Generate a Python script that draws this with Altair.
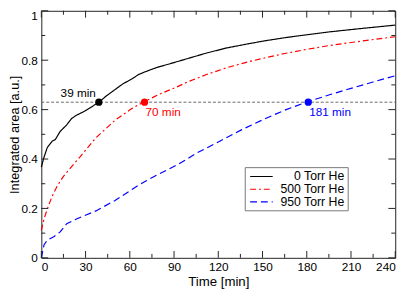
import altair as alt
import pandas as pd

# ---- data ----
t_black = [0, 1.8, 4, 7.3, 9.5, 12.8, 17.2, 20.5, 23.8, 30.4, 39, 44, 50.2, 55, 61.3, 66, 70, 78, 88, 100, 112, 126, 140, 152, 165, 180, 196, 218, 240]
y_black = [0.367, 0.407, 0.446, 0.472, 0.479, 0.512, 0.538, 0.564, 0.577, 0.597, 0.63, 0.655, 0.682, 0.703, 0.724, 0.742, 0.752, 0.770, 0.787, 0.808, 0.829, 0.850, 0.866, 0.879, 0.891, 0.903, 0.915, 0.929, 0.942]

t_red = [0, 1.8, 4, 7.3, 10.6, 15, 18.3, 26, 37, 50.2, 61.3, 70, 80, 92, 100, 112, 126, 140, 152, 165, 180, 196, 218, 240]
y_red = [0.111, 0.157, 0.197, 0.249, 0.289, 0.330, 0.354, 0.407, 0.486, 0.558, 0.604, 0.633, 0.662, 0.692, 0.714, 0.742, 0.770, 0.793, 0.810, 0.827, 0.844, 0.860, 0.878, 0.895]

t_blue = [0, 0.7, 1.8, 4, 8.4, 12.8, 17.2, 23.8, 37, 50, 63.5, 70, 80, 92.6, 106, 121, 136, 152, 166, 181, 196, 210, 225, 240]
y_blue = [0.0, 0.02, 0.052, 0.072, 0.085, 0.105, 0.138, 0.157, 0.19, 0.232, 0.285, 0.308, 0.340, 0.378, 0.426, 0.472, 0.519, 0.564, 0.600, 0.633, 0.661, 0.686, 0.712, 0.737]

series = ["0 Torr He", "500 Torr He", "950 Torr He"]
colors = ["#000000", "#ff0000", "#0000ff"]
dashes = [[1, 0], [6, 3, 2, 3], [7, 4]]

cross_t = [39, 70, 181]
cross_y = 0.63
cross_labels = ["39 min", "70 min", "181 min"]

x_major = [0, 30, 60, 90, 120, 150, 180, 210, 240]
x_minor = [15, 45, 75, 105, 135, 165, 195, 225]
y_major = [0, 0.2, 0.4, 0.6, 0.8, 1.0]
y_minor = [0.1, 0.3, 0.5, 0.7, 0.9]

W, H = 361, 252
FONT = "Liberation Sans"
FRAME = "#222222"

xs = alt.Scale(domain=[0, 240], nice=False, zero=False)
ys = alt.Scale(domain=[0, 1], nice=False, zero=False)

x_axis = alt.Axis(values=x_major, ticks=False, tickSize=0, domain=False, grid=False,
                  labelPadding=4, labelFontSize=12, labelFont=FONT, labelColor="#000",
                  titleFontSize=13.5, titleFont=FONT, titleFontWeight="normal",
                  titleColor="#000", titlePadding=2)
y_axis = alt.Axis(values=y_major, format=".1~f", ticks=False, tickSize=0, domain=False,
                  grid=False, labelPadding=4, labelFontSize=12, labelFont=FONT,
                  labelColor="#000",
                  labelBaseline={"condition": {"test": "datum.value >= 1", "value": "top"}, "value": "middle"},
                  titleFontSize=13, titleFont=FONT,
                  titleFontWeight="normal", titleColor="#000", titlePadding=0)

def X(field="t"):
    return alt.X(f"{field}:Q", scale=xs, axis=x_axis, title="Time [min]")

def Y(field="v"):
    return alt.Y(f"{field}:Q", scale=ys, axis=y_axis, title="Integrated area [a.u.]")

layers = []

# curves
for ts, vs, c, d in zip([t_black, t_red, t_blue], [y_black, y_red, y_blue], colors, dashes):
    df = pd.DataFrame({"t": ts, "v": vs})
    layers.append(
        alt.Chart(df).mark_line(color=c, strokeWidth=1.2, strokeDash=d).encode(x=X(), y=Y())
    )

# inward tick marks on all four sides
def xticks(vals, length):
    df = pd.DataFrame({"t": vals})
    base = alt.Chart(df).mark_rule(color=FRAME, strokeWidth=1)
    bottom = base.encode(x=X(), y=alt.value(H), y2=alt.value(H - length))
    top = base.encode(x=X(), y=alt.value(0), y2=alt.value(length))
    return [bottom, top]

def yticks(vals, length):
    df = pd.DataFrame({"v": vals})
    base = alt.Chart(df).mark_rule(color=FRAME, strokeWidth=1)
    left = base.encode(y=Y(), x=alt.value(0), x2=alt.value(length))
    right = base.encode(y=Y(), x=alt.value(W), x2=alt.value(W - length))
    return [left, right]

layers += xticks(x_major, 7) + xticks(x_minor, 4) + yticks(y_major, 7) + yticks(y_minor, 4)

# horizontal dashed reference line
ref_df = pd.DataFrame({"t": [0], "t2": [240], "v": [cross_y]})
layers.append(
    alt.Chart(ref_df).mark_rule(color="#666666", strokeDash=[3, 2], strokeWidth=1).encode(
        x=X(), x2="t2:Q", y=Y()
    )
)

# crossing points and their labels
label_offsets = [(-3, -9, "right"), (1, 10, "left"), (1, 10, "left")]
for tc, lab, c, (dx, dy, al) in zip(cross_t, cross_labels, colors, label_offsets):
    df = pd.DataFrame({"t": [tc], "v": [cross_y], "lab": [lab]})
    base = alt.Chart(df)
    layers.append(base.mark_circle(color=c, size=55, opacity=1).encode(x=X(), y=Y()))
    layers.append(
        base.mark_text(color=c, font=FONT, fontSize=12, align=al, baseline="middle", dx=dx, dy=dy).encode(
            x=X(), y=Y(), text="lab:N"
        )
    )

# legend box
box_df = pd.DataFrame({"k": [0]})
layers.append(
    alt.Chart(box_df).mark_rect(fill="white", stroke="#777777", strokeWidth=1).encode(
        x=alt.value(208), x2=alt.value(313), y=alt.value(160), y2=alt.value(204)
    )
)
legend_rows = [169, 182, 195]
for name, c, d, yy in zip(series, colors, dashes, legend_rows):
    layers.append(
        alt.Chart(box_df).mark_rule(color=c, strokeWidth=1.2, strokeDash=d).encode(
            x=alt.value(213), x2=alt.value(236), y=alt.value(yy)
        )
    )
    layers.append(
        alt.Chart(box_df).mark_text(font=FONT, fontSize=12.5, align="right", baseline="middle", color="#000").encode(
            x=alt.value(309), y=alt.value(yy), text=alt.value(name)
        )
    )

chart = (
    alt.layer(*layers)
    .properties(
        width=W,
        height=H,
        autosize=alt.AutoSizeParams(type="none"),
        padding={"left": 34, "top": 0, "right": 12, "bottom": 32},
        background="white",
    )
    .configure_view(stroke=FRAME, strokeWidth=1)
)

chart.save("out.html", embed_options={"renderer": "svg", "actions": False})
